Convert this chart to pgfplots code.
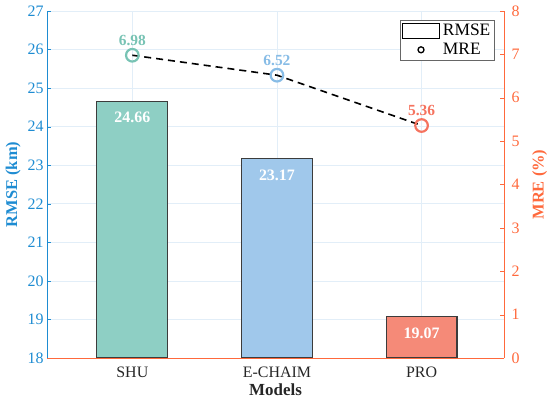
\documentclass[border=0pt]{standalone}
\usepackage{pgfplots}
\pgfplotsset{compat=1.18}
\usepackage{fontspec}
\setmainfont{Liberation Serif}
\definecolor{lblue}{RGB}{30,140,210}
\definecolor{rorange}{RGB}{255,105,60}
\definecolor{cteal}{RGB}{142,207,196}
\definecolor{cblue}{RGB}{160,200,235}
\definecolor{csalmon}{RGB}{245,138,120}
\definecolor{tteal}{RGB}{120,195,180}
\definecolor{tblue}{RGB}{135,188,230}
\definecolor{tsalmon}{RGB}{245,115,95}
\definecolor{gridc}{RGB}{226,238,248}
\definecolor{edgec}{RGB}{60,60,60}
\begin{document}
\begin{tikzpicture}
\path[use as bounding box] (-47bp,-44bp) rectangle (503bp,358bp);
\begin{axis}[
  at={(0,0)}, anchor=south west,
  scale only axis, width=457bp, height=347bp,
  xmin=-0.59, xmax=2.57, ymin=18, ymax=27,
  ytick={18,19,...,27},
  xtick={0,1,2}, xticklabels={SHU,E-CHAIM,PRO},
  axis y line*=left, axis x line*=bottom,
  y axis line style={draw=lblue, line width=0.8bp},
  x axis line style={draw=rorange, line width=0.8bp},
  ytick style={draw=lblue},
  xtick style={draw=none},
  major tick length=4bp,
  /pgf/number format/assume math mode=true,
  yticklabel style={font=\fontsize{16}{17}\selectfont, text=lblue},
  xticklabel style={font=\fontsize{16}{17}\selectfont, text=black!85, yshift=-1bp},
  ylabel={\bfseries RMSE (km)},
  ylabel style={font=\fontsize{16.5}{18}\selectfont, text=lblue, at={(axis description cs:-0.074,0.5)}, anchor=center},
  xlabel={\bfseries Models},
  xlabel style={font=\fontsize{17}{19}\selectfont, text=black!85, at={(axis description cs:0.5,-0.092)}, anchor=center},
  xmajorgrids, ymajorgrids,
  grid style={draw=gridc, line width=0.7bp},
  ybar, bar width=0.49, bar shift=0pt,
  point meta=explicit symbolic,
  nodes near coords,
  every node near coord/.append style={anchor=north, yshift=-7bp, text=white, font=\bfseries\fontsize{16}{18}\selectfont},
]
\addplot[fill=cteal, draw=edgec, line width=1.1bp] coordinates {(0,24.66) [24.66]};
\addplot[fill=cblue, draw=edgec, line width=1.1bp] coordinates {(1,23.17) [23.17]};
\addplot[fill=csalmon, draw=edgec, line width=1.1bp] coordinates {(2,19.07) [19.07]};
\end{axis}
\begin{axis}[
  at={(0,0)}, anchor=south west,
  scale only axis, width=457bp, height=347bp,
  xmin=-0.59, xmax=2.57, ymin=0, ymax=8,
  ytick={0,1,...,8},
  axis y line*=right, axis x line=none,
  y axis line style={draw=rorange, line width=0.8bp},
  ytick style={draw=rorange},
  major tick length=4bp,
  /pgf/number format/assume math mode=true,
  yticklabel style={font=\fontsize{16}{17}\selectfont, text=rorange, xshift=4bp},
  ylabel={\bfseries MRE (\%)},
  ylabel style={font=\fontsize{16.5}{18}\selectfont, text=rorange, at={(axis description cs:1.078,0.5)}, anchor=center},
  legend style={at={(0.772,0.974)}, anchor=north west, draw=black!60, line width=0.6bp,
    font=\fontsize{17.5}{18}\selectfont, inner sep=2bp, row sep=2bp, column sep=1bp,
    legend cell align=left},
  legend image code/.code={\draw[#1] (0bp,-7.5bp) rectangle (37bp,7.5bp);},
]
\addlegendimage{draw=black, line width=0.8bp}
\addlegendentry{RMSE}
\addlegendimage{legend image code/.code={\draw[black, line width=1.3bp] (18.5bp,0bp) circle (3bp);}}
\addlegendentry{MRE}
\addplot[black, line width=1.6bp, dash pattern=on 7bp off 5bp, no marks, forget plot] coordinates {(0,6.98) (1,6.52) (2,5.36)};
\addplot[only marks, mark=o, mark size=6.3bp, mark options={line width=2.2bp, draw=tteal, fill=white}, point meta=explicit symbolic, nodes near coords, every node near coord/.append style={anchor=south, yshift=5bp, text=tteal, font=\bfseries\fontsize{15.5}{17}\selectfont}, forget plot] coordinates {(0,6.98) [6.98]};
\addplot[only marks, mark=o, mark size=6.3bp, mark options={line width=2.2bp, draw=tblue, fill=white}, point meta=explicit symbolic, nodes near coords, every node near coord/.append style={anchor=south, yshift=5bp, text=tblue, font=\bfseries\fontsize{15.5}{17}\selectfont}, forget plot] coordinates {(1,6.52) [6.52]};
\addplot[only marks, mark=o, mark size=6.3bp, mark options={line width=2.2bp, draw=tsalmon, fill=white}, point meta=explicit symbolic, nodes near coords, every node near coord/.append style={anchor=south, yshift=5bp, text=tsalmon, font=\bfseries\fontsize{15.5}{17}\selectfont}, forget plot] coordinates {(2,5.36) [5.36]};
\end{axis}
\end{tikzpicture}
\end{document}
